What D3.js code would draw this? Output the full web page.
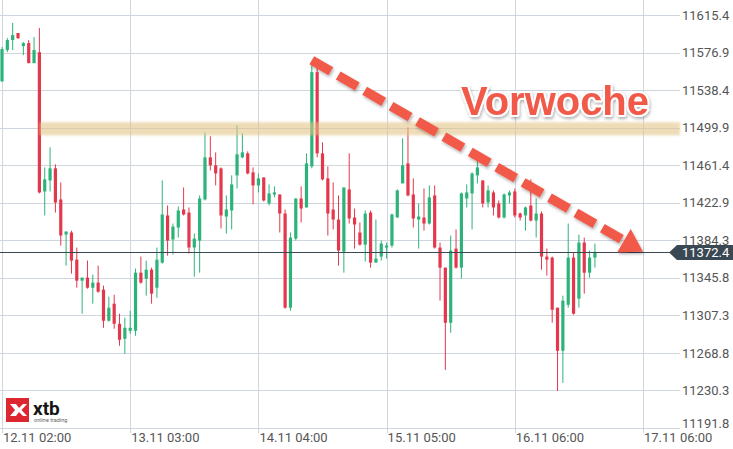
<!DOCTYPE html>
<html><head><meta charset="utf-8">
<script src="https://cdn.jsdelivr.net/npm/d3@7"></script>
<style>
body{margin:0;background:#fff;}
svg{display:block;font-family:Roboto, "Noto Sans", sans-serif;}
</style>
</head><body>
<svg id="chart" width="733" height="449"></svg>
<script>
// ---- data ----
const xTickIndex = [0, 24, 48, 72, 96, 120];
const xTickLabels = ["12.11 02:00", "13.11 03:00", "14.11 04:00", "15.11 05:00", "16.11 06:00", "17.11 06:00"];
const yTickValues = [11191.8, 11230.3, 11268.8, 11307.3, 11345.8, 11384.3, 11422.9, 11461.4, 11499.9, 11538.4, 11576.9, 11615.4];

const opens = [11547.5,11579.4,11589.7,11596.9,11583.5,11586.6,11566.0,11577.3,11434.4,11445.7,
11458.1,11426.2,11390.2,11392.3,11364.5,11342.9,11346.0,11335.7,11340.9,11333.7,
11301.8,11319.3,11298.7,11283.3,11291.5,11291.5,11351.1,11345.0,11354.2,11335.7,
11361.4,11409.8,11385.1,11397.4,11415.9,11412.8,11376.9,11384.0,11426.2,11469.4,
11461.2,11458.1,11408.7,11414.9,11450.9,11469.4,11473.5,11454.0,11440.6,11448.8,
11422.1,11431.3,11431.3,11411.8,11315.2,11386.1,11427.2,11418.0,11460.1,11556.8,
11473.5,11447.8,11415.9,11405.6,11372.7,11436.5,11407.7,11392.3,11379.9,11412.8,
11361.4,11367.6,11376.9,11378.9,11407.7,11442.7,11463.2,11431.3,11405.6,11407.7,
11401.5,11430.3,11376.9,11356.3,11299.7,11375.8,11356.3,11427.2,11432.4,11450.9,
11445.7,11423.1,11433.4,11422.1,11407.7,11430.3,11434.4,11411.8,11409.8,11420.0,
11404.6,11411.8,11367.6,11366.6,11315.2,11271.0,11318.2,11366.6,11324.4,11382.0,
11351.1,11366.6];
const highs = [11582.5,11591.7,11607.2,11596.9,11587.6,11589.7,11592.8,11602.0,11459.1,11479.7,
11462.2,11443.7,11393.3,11394.3,11376.9,11346.0,11363.5,11349.1,11358.3,11337.8,
11326.5,11328.5,11309.0,11304.9,11312.1,11355.3,11367.6,11363.5,11356.3,11376.9,
11445.7,11420.0,11401.5,11419.0,11438.5,11418.0,11391.2,11430.3,11495.1,11491.0,
11474.5,11459.1,11430.3,11450.9,11502.3,11494.1,11475.6,11459.1,11452.9,11448.8,
11441.6,11439.6,11431.3,11415.9,11392.3,11427.2,11439.6,11473.5,11564.0,11561.9,
11484.8,11460.1,11443.7,11430.3,11438.5,11473.5,11416.9,11402.6,11414.9,11414.9,
11405.6,11384.0,11382.0,11411.8,11436.5,11488.9,11500.2,11447.8,11422.1,11437.5,
11440.6,11440.6,11382.0,11356.3,11389.2,11395.4,11433.4,11441.6,11454.0,11466.3,
11445.7,11440.6,11435.5,11425.2,11432.4,11435.5,11437.5,11412.8,11419.0,11446.8,
11427.2,11413.9,11375.8,11367.6,11315.2,11327.5,11401.5,11371.7,11390.2,11387.1,
11373.8,11381.0];
const lows = [11546.5,11577.3,11579.4,11590.7,11574.3,11566.0,11566.0,11432.4,11409.8,11434.4,
11412.8,11378.9,11358.3,11350.1,11335.7,11309.0,11334.7,11319.3,11330.6,11294.6,
11300.8,11293.6,11276.1,11267.9,11288.4,11286.4,11339.8,11327.5,11319.3,11325.4,
11360.4,11368.6,11369.7,11387.1,11409.8,11370.7,11347.0,11351.1,11425.2,11456.0,
11440.6,11396.4,11391.2,11395.4,11437.5,11468.4,11451.9,11421.1,11433.4,11424.1,
11420.0,11428.3,11392.3,11314.1,11312.1,11384.0,11402.6,11418.0,11458.1,11469.4,
11445.7,11389.2,11395.4,11358.3,11351.1,11401.5,11375.8,11378.9,11362.5,11356.3,
11361.4,11363.5,11365.5,11376.9,11407.7,11442.7,11429.3,11397.4,11375.8,11394.3,
11400.5,11375.8,11322.4,11251.4,11289.5,11355.3,11345.0,11418.0,11395.4,11442.7,
11418.0,11418.0,11409.8,11406.7,11406.7,11422.1,11407.7,11404.6,11394.3,11403.6,
11387.1,11354.2,11348.1,11299.7,11229.8,11238.1,11315.2,11308.0,11315.2,11329.6,
11346.0,11356.3];
const closes = [11580.4,11589.7,11594.8,11591.7,11586.6,11566.0,11579.4,11433.4,11446.8,11458.1,
11423.1,11389.2,11393.3,11363.5,11342.9,11346.0,11335.7,11340.9,11331.6,11301.8,
11315.2,11298.7,11282.3,11294.6,11294.6,11351.1,11340.9,11354.2,11329.6,11364.5,
11410.8,11384.0,11398.4,11414.9,11410.8,11376.9,11386.1,11427.2,11469.4,11461.2,
11452.9,11409.8,11415.9,11441.6,11472.5,11474.5,11452.9,11440.6,11447.8,11425.2,
11432.4,11433.4,11411.8,11315.2,11387.1,11427.2,11416.9,11463.2,11556.8,11473.5,
11446.8,11411.8,11405.6,11373.8,11438.5,11406.7,11400.5,11379.9,11411.8,11361.4,
11365.5,11381.0,11378.9,11410.8,11435.5,11461.2,11430.3,11406.7,11408.7,11401.5,
11428.3,11376.9,11356.3,11299.7,11373.8,11356.3,11432.4,11433.4,11452.9,11459.1,
11422.1,11435.5,11418.0,11407.7,11431.3,11433.4,11409.8,11407.7,11418.0,11404.6,
11411.8,11367.6,11364.5,11313.1,11271.0,11322.4,11366.6,11309.0,11382.0,11351.1,
11366.6,11372.4];

const lastPrice = 11372.4;
const zoneLow = 11492.0, zoneHigh = 11505.5, zoneStartIndex = 7;
const trendFrom = [58, 11569.0];
const trendTo = [120, 11372.7];
const noteText = "Vorwoche";

// ---- drawing ----
const svg = d3.select("#chart");
const x = d3.scaleLinear().domain([0, 120]).range([2, 643]);
const y = d3.scaleLinear().domain([11191.8, 11615.4]).range([428, 15]);

const defs = svg.append("defs");
const sh = defs.append("filter").attr("id","shadow").attr("x","-10%").attr("y","-20%").attr("width","130%").attr("height","150%");
sh.append("feDropShadow").attr("dx",1).attr("dy",2).attr("stdDeviation",1.5).attr("flood-color","#000").attr("flood-opacity",0.3);
const blur = defs.append("filter").attr("id","soft").attr("x","-5%").attr("y","-50%").attr("width","110%").attr("height","200%");
blur.append("feGaussianBlur").attr("stdDeviation",0.8);

const gridColor = "#cfd6de";
const crisp = v => Math.round(v) + 0.5;

// horizontal grid (extending as ticks to the labels)
svg.append("g").selectAll("line").data(yTickValues).join("line")
  .attr("x1", 0).attr("x2", 680)
  .attr("y1", d => crisp(y(d))).attr("y2", d => crisp(y(d)))
  .attr("stroke", gridColor).attr("stroke-width", 1);

// vertical grid
svg.append("g").selectAll("line").data(xTickIndex).join("line")
  .attr("x1", d => crisp(x(d))).attr("x2", d => crisp(x(d)))
  .attr("y1", 0).attr("y2", 433)
  .attr("stroke", gridColor).attr("stroke-width", 1);

// candles
const idx = d3.range(opens.length);
const up = "#2db37a", down = "#e3384b";
const bodyW = 3.2;
const cg = svg.append("g");
cg.selectAll("line").data(idx).join("line")
  .attr("x1", i => x(i)).attr("x2", i => x(i))
  .attr("y1", i => y(highs[i])).attr("y2", i => y(lows[i]))
  .attr("stroke", i => closes[i] >= opens[i] ? up : down).attr("stroke-width", 1);
cg.selectAll("rect").data(idx).join("rect")
  .attr("x", i => x(i) - bodyW/2).attr("width", bodyW)
  .attr("y", i => y(Math.max(opens[i], closes[i])))
  .attr("height", i => Math.max(1.2, Math.abs(y(opens[i]) - y(closes[i]))))
  .attr("fill", i => closes[i] >= opens[i] ? up : down);

// resistance zone
svg.append("rect")
  .attr("x", x(zoneStartIndex)).attr("width", 680 - x(zoneStartIndex))
  .attr("y", y(zoneHigh)).attr("height", y(zoneLow) - y(zoneHigh))
  .attr("fill", "rgb(226,196,134)").attr("opacity", 0.58)
  .attr("filter", "url(#soft)");

// current price line
svg.append("line")
  .attr("x1", 0).attr("x2", 670)
  .attr("y1", crisp(y(lastPrice))).attr("y2", crisp(y(lastPrice)))
  .attr("stroke", "#3b4853").attr("stroke-width", 1);

// y labels (lowest one nudged up, clear of the time labels)
svg.append("g").selectAll("text").data(yTickValues).join("text")
  .attr("x", 682).attr("y", (d, i) => y(d) + 4.6 - (i === 0 ? 5 : 0))
  .attr("font-size", 13).attr("fill", "#555")
  .text(d => d.toFixed(1));

// x labels
svg.append("g").selectAll("text").data(xTickIndex).join("text")
  .attr("x", (d) => x(d) + 1).attr("y", 442)
  .attr("font-size", 13).attr("fill", "#555")
  .text((d, i) => xTickLabels[i]);

// price badge
const by = y(lastPrice) + 0.5;
svg.append("path")
  .attr("d", `M669,${by} L677,${by-7.5} L733,${by-7.5} L733,${by+7.5} L677,${by+7.5} Z`)
  .attr("fill", "#3a4854");
svg.append("text").attr("x", 682).attr("y", by + 4.6)
  .attr("font-size", 13).attr("fill", "#fff").text(lastPrice.toFixed(1));

// trend arrow
const S = [x(trendFrom[0]), y(trendFrom[1])];
const T = [x(trendTo[0]), y(trendTo[1])];
const dx = T[0]-S[0], dy = T[1]-S[1], len = Math.hypot(dx, dy);
const ux = dx/len, uy = dy/len, nx = -uy, ny = ux;
const headL = 22, headW = 13.5;
const B = [T[0]-ux*headL, T[1]-uy*headL];
const ag = svg.append("g").attr("filter", "url(#shadow)");
ag.append("line")
  .attr("x1", S[0]).attr("y1", S[1]).attr("x2", B[0]+ux*2).attr("y2", B[1]+uy*2)
  .attr("stroke", "#f15a4a").attr("stroke-width", 9.5)
  .attr("stroke-dasharray", "22,8.5");
ag.append("path")
  .attr("d", `M${T[0]},${T[1]} L${B[0]+nx*headW},${B[1]+ny*headW} L${B[0]-nx*headW},${B[1]-ny*headW} Z`)
  .attr("fill", "#f15a4a");

// note text
svg.append("text")
  .attr("x", 461).attr("y", 115)
  .attr("font-family", "'Liberation Sans', Arial, sans-serif")
  .attr("font-weight", "bold").attr("font-size", 41)
  .attr("textLength", 188).attr("lengthAdjust", "spacingAndGlyphs")
  .attr("fill", "#f15a4a").attr("stroke", "#fff").attr("stroke-width", 4)
  .attr("stroke-linejoin", "round").attr("paint-order", "stroke")
  .attr("filter", "url(#shadow)")
  .text(noteText);

// logo
const lg = svg.append("g");
lg.append("rect").attr("x", 6).attr("y", 398).attr("width", 23).attr("height", 24).attr("fill", "#dc2630");
lg.append("path")
  .attr("d", "M10,404 L16,404 L19,408 L23,404 L27,404 L21.5,410 L27,416 L23,416 L19,412 L16,416 L10,416 L15,410 Z")
  .attr("fill", "#fff");
lg.append("text").attr("x", 33).attr("y", 414.5)
  .attr("font-family", "Roboto, sans-serif").attr("font-weight", "bold")
  .attr("font-size", 19).attr("fill", "#151515").text("xtb");
lg.append("text").attr("x", 34).attr("y", 422)
  .attr("font-size", 5.5).attr("fill", "#666").text("online trading");
</script>
</body></html>
